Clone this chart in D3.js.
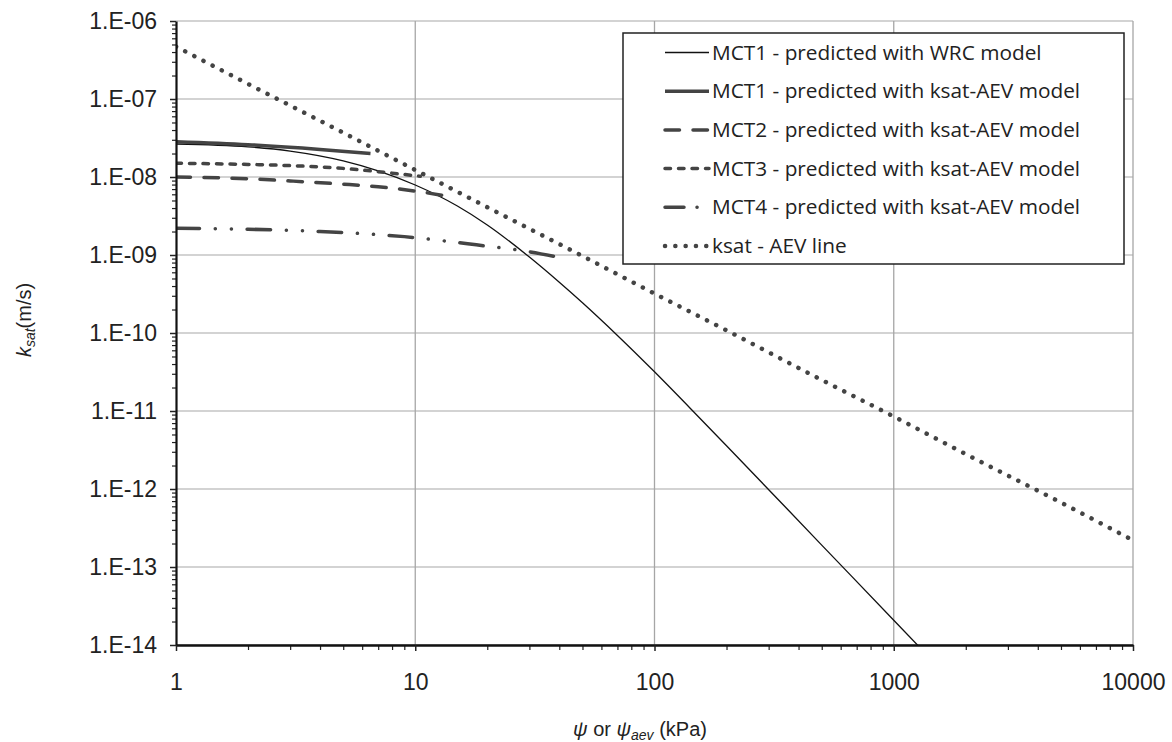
<!DOCTYPE html>
<html>
<head>
<meta charset="utf-8">
<script src="https://cdn.jsdelivr.net/npm/d3@7"></script>
<style>
  body { margin: 0; background: #fff; }
  .tick text { font-family: "Liberation Sans", Arial, sans-serif; font-size: 23px; fill: #222; }
  .legend text { font-family: "Open Sans", sans-serif; font-size: 20.8px; fill: #222; }
</style>
</head>
<body>
<div id="chart"></div>
<script>
// axis ticks
const xTicks = [1, 10, 100, 1000, 10000];
const yTicks = [1e-6, 1e-7, 1e-8, 1e-9, 1e-10, 1e-11, 1e-12, 1e-13, 1e-14];

// MCT1 - predicted with WRC model
const wrc_psi = [1, 2, 3, 5, 7, 10, 15, 20, 30, 40, 50, 70, 100, 140, 200, 500, 1000, 1300];
const wrc_k = [2.65e-8, 2.44e-8, 2.15e-8, 1.61e-8, 1.2e-8, 7.9e-9, 4.25e-9, 2.43e-9, 9.4e-10, 4.47e-10, 2.44e-10, 9.3e-11, 3.18e-11, 1.11e-11, 3.59e-12, 1.91e-13, 2.08e-14, 8.97e-15];

// MCT1..MCT4 - predicted with ksat-AEV model
const mct1_psi = [1, 2, 4, 6.5];
const mct1_k = [2.84e-8, 2.6e-8, 2.26e-8, 2.0e-8];
const mct2_psi = [1, 2, 3, 5, 7, 10, 14.4];
const mct2_k = [1.0e-8, 9.5e-9, 8.9e-9, 8.1e-9, 7.5e-9, 6.6e-9, 5.5e-9];
const mct3_psi = [1, 2, 3, 5, 8, 10.5];
const mct3_k = [1.5e-8, 1.45e-8, 1.4e-8, 1.29e-8, 1.12e-8, 1.02e-8];
const mct4_psi = [1, 2, 4, 9, 18, 30, 41.5];
const mct4_k = [2.2e-9, 2.14e-9, 2.0e-9, 1.72e-9, 1.35e-9, 1.1e-9, 9.1e-10];

// ksat - AEV line
const aev_psi = [1, 2, 5, 10, 20, 50, 100, 200, 500, 1000, 2000, 5000, 10000];
const aev_k = [4.7e-7, 1.56e-7, 3.7e-8, 1.23e-8, 4.1e-9, 9.7e-10, 3.2e-10, 1.08e-10, 2.5e-11, 8.5e-12, 2.8e-12, 6.7e-13, 2.2e-13];

const width = 1172, height = 742;
const plot = {left: 176, right: 1133, top: 21, bottom: 645};

const svg = d3.select("#chart").append("svg")
  .attr("width", width).attr("height", height);

const x = d3.scaleLog().domain([1, 10000]).range([plot.left, plot.right]);
const y = d3.scaleLog().domain([1e-14, 1e-6]).range([plot.bottom, plot.top]);

// minor ticks 2..9 in each decade
let xMinor = [], yMinor = [];
for (let d = 1; d < 10000; d *= 10) for (let m = 2; m < 10; m++) xMinor.push(d * m);
for (let e = -14; e < -6; e++) for (let m = 2; m < 10; m++) yMinor.push(m * Math.pow(10, e));

// gridlines
svg.append("g").selectAll("line").data(yTicks).enter().append("line")
  .attr("x1", plot.left).attr("x2", plot.right)
  .attr("y1", d => y(d)).attr("y2", d => y(d))
  .attr("stroke", "#c4c4c4").attr("stroke-width", 1.5);
svg.append("g").selectAll("line").data(xTicks.slice(1)).enter().append("line")
  .attr("x1", d => x(d)).attr("x2", d => x(d))
  .attr("y1", plot.top).attr("y2", plot.bottom)
  .attr("stroke", "#a6a6a6").attr("stroke-width", 1.3);

// series
const series = [
  {name: "MCT1 - predicted with WRC model", psi: wrc_psi, k: wrc_k, color: "#111", w: 1.3, dash: null, cap: "butt"},
  {name: "MCT1 - predicted with ksat-AEV model", psi: mct1_psi, k: mct1_k, color: "#444", w: 3.5, dash: null, cap: "butt"},
  {name: "MCT2 - predicted with ksat-AEV model", psi: mct2_psi, k: mct2_k, color: "#444", w: 3.5, dash: "14.5,13.5", cap: "round"},
  {name: "MCT3 - predicted with ksat-AEV model", psi: mct3_psi, k: mct3_k, color: "#444", w: 3.5, dash: "5.5,8", cap: "round"},
  {name: "MCT4 - predicted with ksat-AEV model", psi: mct4_psi, k: mct4_k, color: "#444", w: 3.5, dash: "23.5,15.75,0.1,16,0.1,15.65", cap: "round"},
  {name: "ksat - AEV line", psi: aev_psi, k: aev_k, color: "#444", w: 4.5, dash: "0.1,10.2", cap: "round"}
];

svg.append("clipPath").attr("id", "plotclip").append("rect")
  .attr("x", plot.left).attr("y", plot.top - 5)
  .attr("width", plot.right - plot.left + 5).attr("height", plot.bottom - plot.top + 5);

const line = d3.line().x(d => x(d[0])).y(d => y(d[1])).curve(d3.curveMonotoneX);

svg.append("g").attr("clip-path", "url(#plotclip)")
  .selectAll("path").data(series).enter().append("path")
  .attr("d", s => line(s.psi.map((p, i) => [p, s.k[i]])))
  .attr("fill", "none")
  .attr("stroke", s => s.color)
  .attr("stroke-width", s => s.w)
  .attr("stroke-linecap", s => s.cap)
  .attr("stroke-dasharray", s => s.dash);

// axes
const fmtY = d => "1.E-" + String(-Math.round(Math.log10(d))).padStart(2, "0");

svg.append("g").attr("transform", `translate(${plot.left},0)`)
  .call(d3.axisLeft(y).tickValues(yMinor).tickFormat("").tickSize(4).tickSizeOuter(0))
  .call(g => g.select(".domain").remove())
  .call(g => g.selectAll("line").attr("stroke", "#222").attr("stroke-width", 1.2));
svg.append("g").attr("transform", `translate(${plot.left},0)`)
  .call(d3.axisLeft(y).tickValues(yTicks).tickFormat(fmtY).tickSize(6).tickSizeOuter(0).tickPadding(13))
  .call(g => g.select(".domain").attr("stroke", "#111").attr("stroke-width", 2.2))
  .call(g => g.selectAll(".tick line").attr("stroke", "#222").attr("stroke-width", 1.5));

svg.append("g").attr("transform", `translate(0,${plot.bottom})`)
  .call(d3.axisBottom(x).tickValues(xMinor).tickFormat("").tickSize(5).tickSizeOuter(0))
  .call(g => g.select(".domain").remove())
  .call(g => g.selectAll("line").attr("stroke", "#222").attr("stroke-width", 1.2));
svg.append("g").attr("transform", `translate(0,${plot.bottom})`)
  .call(d3.axisBottom(x).tickValues(xTicks).tickFormat(d3.format("d")).tickSize(6).tickSizeOuter(0).tickPadding(23))
  .call(g => g.select(".domain").attr("stroke", "#111").attr("stroke-width", 2.5))
  .call(g => g.selectAll(".tick line").attr("stroke", "#222").attr("stroke-width", 1.5));

// axis titles
const yTitle = svg.append("text")
  .attr("transform", "translate(31,320) rotate(-90)")
  .attr("text-anchor", "middle")
  .attr("font-family", "Liberation Sans, Arial, sans-serif")
  .attr("font-size", 20).attr("fill", "#222");
yTitle.append("tspan").attr("font-style", "italic").text("k");
yTitle.append("tspan").attr("font-style", "italic").attr("font-size", 14).attr("dy", 4).text("sat");
yTitle.append("tspan").attr("dy", -4).text("(m/s)");

const xTitle = svg.append("text")
  .attr("x", 640).attr("y", 736)
  .attr("text-anchor", "middle")
  .attr("font-family", "Liberation Sans, Arial, sans-serif")
  .attr("font-size", 20).attr("fill", "#222");
xTitle.append("tspan").attr("font-style", "italic").text("ψ");
xTitle.append("tspan").text(" or ");
xTitle.append("tspan").attr("font-style", "italic").text("ψ");
xTitle.append("tspan").attr("font-style", "italic").attr("font-size", 14).attr("dy", 4).text("aev");
xTitle.append("tspan").attr("dy", -4).text(" (kPa)");

// legend
const legend = svg.append("g").attr("class", "legend");
legend.append("rect")
  .attr("x", 623).attr("y", 33).attr("width", 501).attr("height", 231)
  .attr("fill", "#fff").attr("stroke", "#222").attr("stroke-width", 1.5);

const rows = legend.selectAll("g.row").data(series).enter().append("g")
  .attr("class", "row")
  .attr("transform", (d, i) => `translate(0,${52.5 + i * 38.7})`);
rows.append("line")
  .attr("x1", 665).attr("x2", 709).attr("y1", 0).attr("y2", 0)
  .attr("stroke", s => s.color)
  .attr("stroke-width", s => s.w)
  .attr("stroke-linecap", s => s.cap)
  .attr("stroke-dasharray", (s, i) => i === 4 ? "19,13,0.1,20" : s.dash);
rows.append("text")
  .attr("x", 712).attr("y", 7)
  .text(s => s.name);
</script>
</body>
</html>
